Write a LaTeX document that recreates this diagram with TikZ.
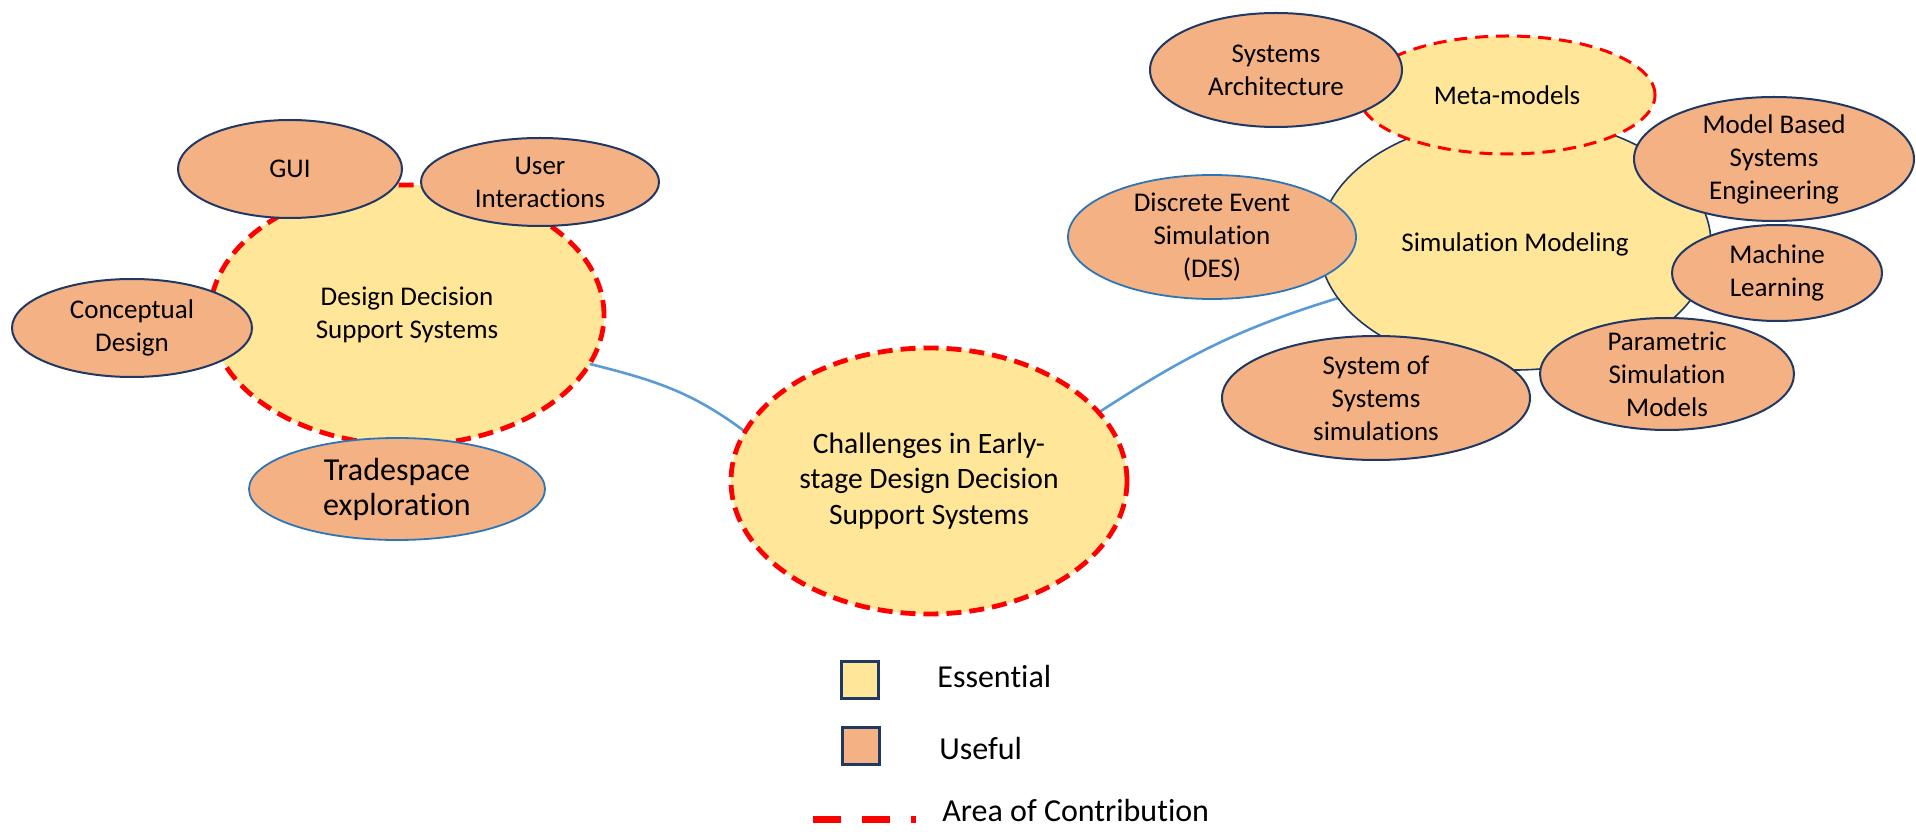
\documentclass[tikz,border=0pt]{standalone}
\usepackage{fontspec}
\setmainfont{Carlito}[Ligatures=NoCommon]
\usetikzlibrary{shapes.geometric,backgrounds}
\definecolor{ess}{HTML}{FFE699}
\definecolor{use}{HTML}{F4B183}
\definecolor{navy}{HTML}{1F3864}
\definecolor{bluel}{HTML}{5B9BD5}
\definecolor{blued}{HTML}{2E75B6}
\definecolor{redc}{HTML}{FF0000}
\begin{document}
\begin{tikzpicture}[x=0.5pt,y=0.5pt,
  ell/.style={ellipse, inner sep=0pt, outer sep=0pt},
  essential/.style={ell, fill=ess},
  useful/.style={ell, fill=use, draw=navy, line width=1pt},
  contrib/.style={draw=redc, line width=2.4pt, dash pattern=on 7.5pt off 4pt},
  contribthin/.style={draw=redc, line width=1.5pt, dash pattern=on 6.5pt off 4pt},
  bluebord/.style={draw=blued, line width=0.9pt},
  thinbord/.style={draw=navy, line width=0.8pt},
  txt/.style={align=center, font=\fontsize{13.5}{16.5}\selectfont, inner sep=0pt, text=black},
  bigtxt/.style={align=center, font=\fontsize{16}{17.5}\selectfont, inner sep=0pt, text=black},
  chtxt/.style={align=center, font=\fontsize{14.8}{17.7}\selectfont, inner sep=0pt, text=black},
  legtxt/.style={anchor=west, font=\fontsize{16}{19}\selectfont, inner sep=0pt, text=black},
  conn/.style={draw=bluel, line width=1.3pt},
  legsq/.style={draw=navy, line width=1.2pt, minimum size=18.5pt, inner sep=0pt}]
\useasboundingbox (0,0) rectangle (1916,831);

% left cluster
\node[essential, contrib, minimum width=197pt, minimum height=130pt] (ddss) at (407,516) {};
\node[useful, minimum width=112pt, minimum height=49pt] (gui) at (290,662) {};
\node[useful, minimum width=119pt, minimum height=44pt] (ui) at (540,649) {};
\node[useful, minimum width=120pt, minimum height=49pt] (cd) at (132,503) {};
\node[ell, fill=use, bluebord, minimum width=148pt, minimum height=51pt] (ts) at (397,342) {};

% centre
\node[essential, contrib, minimum width=198pt, minimum height=133pt] (ch) at (929,350) {};

% right cluster
\node[essential, thinbord, minimum width=196pt, minimum height=126pt] (sm) at (1515,587) {};
\node[essential, contribthin, minimum width=148pt, minimum height=59pt] (meta) at (1507,736) {};
\node[useful, minimum width=126pt, minimum height=57pt] (sa) at (1276,761) {};
\node[useful, minimum width=140pt, minimum height=62pt] (mbse) at (1774,672) {};
\node[ell, fill=use, bluebord, minimum width=144pt, minimum height=62pt] (des) at (1212,594) {};
\node[useful, minimum width=105pt, minimum height=48pt] (ml) at (1777,558) {};
\node[useful, minimum width=127pt, minimum height=56pt] (par) at (1667,457) {};
\node[useful, minimum width=154pt, minimum height=62pt] (sos) at (1376,433) {};

% connectors
\begin{pgfonlayer}{background}
\draw[conn] (ddss.-15) to[out=-14, in=143] (ch.165);
\draw[conn] (ch.22) to[out=33, in=-163] (sm.197);
\end{pgfonlayer}

% texts
\node[txt] at (ddss) {Design Decision\\Support Systems};
\node[txt] at (gui) {GUI};
\node[txt] at (ui) {User\\Interactions};
\node[txt] at (cd) {Conceptual\\Design};
\node[bigtxt] at (ts) {Tradespace\\exploration};
\node[chtxt] at (ch) {Challenges in Early-\\stage Design Decision\\Support Systems};
\node[txt] at (sm) {Simulation Modeling};
\node[txt] at (meta) {Meta-models};
\node[txt] at (sa) {Systems\\Architecture};
\node[txt] at (mbse) {Model Based\\Systems\\Engineering};
\node[txt] at (des) {Discrete Event\\Simulation\\(DES)};
\node[txt] at (ml) {Machine\\Learning};
\node[txt] at (par) {Parametric\\Simulation\\Models};
\node[txt] at (sos) {System of\\Systems\\simulations};

% legend
\node[legsq, fill=ess] (lgess) at (860,151) {};
\node[legsq, fill=use] (lguse) at (861,85) {};
\coordinate (lgd1) at (813,12);
\coordinate (lgd2) at (916,12);
\draw[draw=redc, line width=3.5pt, dash pattern=on 14pt off 10.5pt] (lgd1) -- (lgd2);
\node[legtxt] (lt1) at (937,154) {Essential};
\node[legtxt] (lt2) at (939,82) {Useful};
\node[legtxt] (lt3) at (942,20) {Area of Contribution};
\end{tikzpicture}
\end{document}
